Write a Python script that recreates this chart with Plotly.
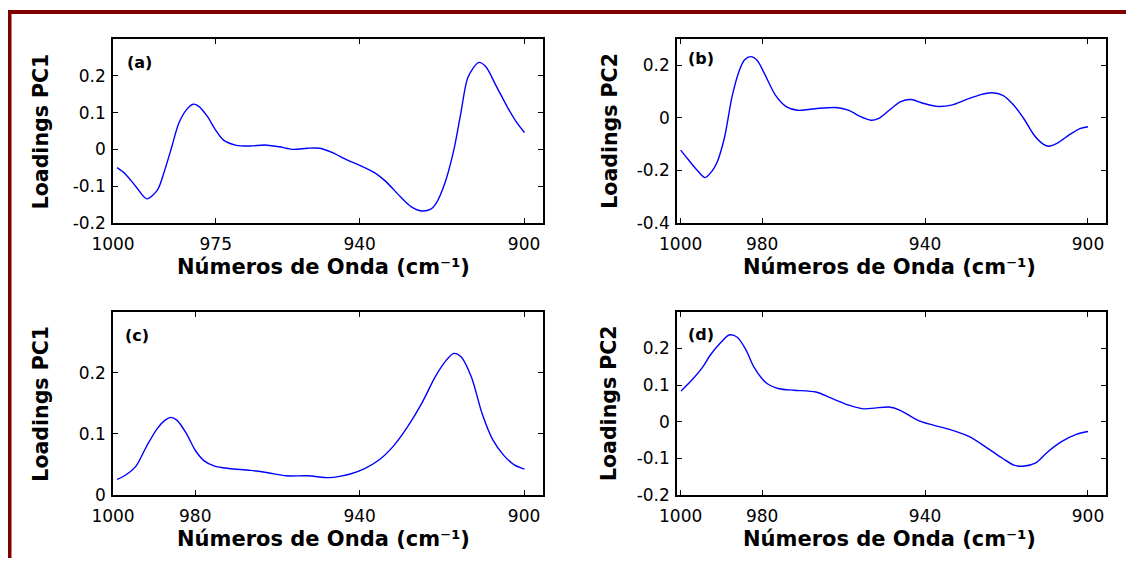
import plotly.graph_objects as go

# ---------------- data ----------------
wn_a = [999.0, 997.0, 994.4, 991.8, 989.2, 987.4, 985.7, 984.0, 982.2, 980.5, 979.2, 977.0, 975.3, 973.1,
        970.0, 966.6, 963.1, 959.6, 956.2, 952.7, 949.7, 946.6, 943.1, 939.7, 936.2, 933.6, 930.1, 927.5,
        924.9, 922.7, 921.4, 919.3, 917.1, 915.4, 913.6, 911.0, 909.3, 906.7, 904.1, 901.9, 899.9]
pc1_a = [-0.050, -0.067, -0.102, -0.135, -0.111, -0.056, 0.007, 0.071, 0.107, 0.123, 0.118, 0.089, 0.057,
         0.025, 0.011, 0.009, 0.012, 0.007, 0.000, 0.003, 0.003, -0.009, -0.029, -0.045, -0.065, -0.088,
         -0.129, -0.156, -0.168, -0.163, -0.147, -0.093, -0.002, 0.098, 0.198, 0.237, 0.225, 0.171, 0.116,
         0.075, 0.046]

wn_b = [1000.0, 998.2, 996.0, 994.0, 992.4, 991.0, 989.2, 987.4, 985.6, 984.3, 982.8, 981.2, 979.4, 976.7,
        974.0, 971.3, 968.6, 965.9, 961.4, 958.7, 956.0, 953.3, 951.5, 948.8, 946.1, 943.4, 940.7, 937.1,
        933.5, 929.9, 926.3, 923.6, 920.9, 918.2, 915.5, 913.2, 911.0, 909.6, 907.4, 904.7, 902.0, 900.0]
pc2_b = [-0.123, -0.158, -0.199, -0.228, -0.205, -0.167, -0.072, 0.080, 0.181, 0.222, 0.234, 0.219, 0.168,
         0.086, 0.042, 0.029, 0.032, 0.037, 0.039, 0.029, 0.006, -0.009, -0.003, 0.029, 0.061, 0.070, 0.057,
         0.044, 0.049, 0.070, 0.089, 0.096, 0.086, 0.048, -0.009, -0.066, -0.100, -0.108, -0.095, -0.066,
         -0.041, -0.034]

wn_c = [999.0, 997.0, 994.4, 991.8, 989.2, 987.4, 985.9, 984.4, 982.2, 980.0, 977.9, 975.3, 971.8, 966.6,
        962.3, 957.9, 952.7, 947.5, 944.9, 942.3, 938.8, 935.3, 931.9, 928.4, 924.9, 921.5, 918.9, 917.1,
        915.4, 912.8, 910.2, 907.6, 905.0, 902.4, 899.9]
pc1_c = [0.025, 0.032, 0.047, 0.080, 0.109, 0.122, 0.127, 0.122, 0.101, 0.073, 0.056, 0.047, 0.043, 0.040,
         0.036, 0.031, 0.031, 0.028, 0.030, 0.034, 0.043, 0.057, 0.079, 0.111, 0.150, 0.195, 0.221, 0.232,
         0.227, 0.193, 0.133, 0.090, 0.065, 0.049, 0.042]

wn_d = [999.9, 997.3, 994.6, 992.8, 990.1, 988.1, 986.1, 983.9, 982.0, 978.9, 975.8, 972.2, 966.8, 963.2,
        958.7, 955.1, 952.4, 948.8, 946.1, 942.0, 938.9, 934.4, 929.0, 924.5, 920.9, 918.2, 915.9, 912.8,
        910.1, 906.5, 902.9, 900.0]
pc2_d = [0.084, 0.113, 0.149, 0.181, 0.217, 0.237, 0.231, 0.195, 0.149, 0.105, 0.090, 0.086, 0.081, 0.065,
         0.045, 0.035, 0.037, 0.040, 0.031, 0.005, -0.007, -0.020, -0.042, -0.074, -0.101, -0.119, -0.122,
         -0.113, -0.085, -0.055, -0.035, -0.027]

xticks_a = [1000, 975, 940, 900]
xticks_bcd = [1000, 980, 940, 900]
yticks_a = [-0.2, -0.1, 0, 0.1, 0.2]
yticks_b = [-0.4, -0.2, 0, 0.2]
yticks_c = [0, 0.1, 0.2]
yticks_d = [-0.2, -0.1, 0, 0.1, 0.2]
panel_labels = ["(a)", "(b)", "(c)", "(d)"]
ytitles = ["Loadings PC1", "Loadings PC2", "Loadings PC1", "Loadings PC2"]
xtitle = "Números de Onda (cm⁻¹)"

# ---------------- layout helpers ----------------
# the page body keeps its default 8px margin: the figure is sized so page == window
OX, OY = 8, 8
W, H = 1134 - 2 * OX, 566 - 2 * OY
FONT = "DejaVu Sans, Liberation Sans, Arial, sans-serif"


def fx(p):
    return (p - OX) / W


def fy(p):
    return 1 - (p - OY) / H


def fmt(v):
    if v == 0:
        return "0"
    return "%g" % v


cols = [(113.0, 543.0), (677.0, 1105.5)]
rows = [(39.3, 222.7), (312.0, 494.7)]

panels = [
    dict(x=wn_a, y=pc1_a, xt=xticks_a, yt=yticks_a, yr=[-0.2, 0.3], xr=[1000.0, 895.4], r=0, c=0,
         lab=(125, 63), xtc=323, ytc=41.3),
    dict(x=wn_b, y=pc2_b, xt=xticks_bcd, yt=yticks_b, yr=[-0.4, 0.3], xr=[1000.9, 895.7], r=0, c=1,
         lab=(686, 58), xtc=889, ytc=609.7),
    dict(x=wn_c, y=pc1_c, xt=xticks_bcd, yt=yticks_c, yr=[0, 0.3], xr=[1000.0, 895.4], r=1, c=0,
         lab=(123, 335), xtc=323, ytc=41.3),
    dict(x=wn_d, y=pc2_d, xt=xticks_bcd, yt=yticks_d, yr=[-0.2, 0.3], xr=[1000.9, 895.7], r=1, c=1,
         lab=(686, 334.5), xtc=889, ytc=609.7),
]

fig = go.Figure()
layout = dict(
    template="none",
    width=W, height=H, autosize=False,
    margin=dict(l=0, r=0, t=0, b=0, pad=0, autoexpand=False),
    paper_bgcolor="white", plot_bgcolor="white",
    showlegend=False,
    font=dict(family=FONT, color="black", size=17),
)
annotations = []

for i, p in enumerate(panels):
    n = "" if i == 0 else str(i + 1)
    x0, x1 = cols[p["c"]]
    top, bot = rows[p["r"]]
    fig.add_trace(go.Scatter(x=p["x"], y=p["y"], mode="lines",
                             line=dict(color="#0000FF", width=1.4, shape="spline", smoothing=0.8),
                             xaxis="x" + n, yaxis="y" + n, hoverinfo="skip"))
    common = dict(showline=True, linecolor="black", linewidth=1.6, mirror="ticks",
                  ticks="inside", ticklen=5, tickwidth=1, tickcolor="black", automargin=False,
                  showgrid=False, zeroline=False, tickfont=dict(family=FONT, size=17, color="black"))
    layout["xaxis" + n] = dict(domain=[fx(x0), fx(x1)], range=p["xr"], anchor="y" + n,
                               tickmode="array", tickvals=p["xt"], ticktext=[str(t) for t in p["xt"]],
                               ticklabelstandoff=5, **common)
    layout["yaxis" + n] = dict(domain=[fy(bot), fy(top)], range=p["yr"], anchor="x" + n,
                               tickmode="array", tickvals=p["yt"], ticktext=[fmt(t) for t in p["yt"]],
                               ticklabelstandoff=2, **common)
    # panel label
    annotations.append(dict(text=panel_labels[i], xref="paper", yref="paper",
                            x=fx(p["lab"][0]), y=fy(p["lab"][1]), xanchor="left", yanchor="middle",
                            showarrow=False, font=dict(family=FONT, size=16, color="black", weight="bold")))
    # x title
    annotations.append(dict(text=xtitle, xref="paper", yref="paper",
                            x=fx(p["xtc"]), y=fy(bot + 44), xanchor="center", yanchor="middle",
                            showarrow=False, font=dict(family=FONT, size=21, color="black", weight="bold")))
    # y title
    annotations.append(dict(text=ytitles[i], xref="paper", yref="paper",
                            x=fx(p["ytc"]), y=fy((top + bot) / 2), xanchor="center", yanchor="middle",
                            textangle=-90, showarrow=False,
                            font=dict(family=FONT, size=20.5, color="black", weight="bold")))

layout["annotations"] = annotations
# dark red frame (top and left edges)
layout["shapes"] = [
    dict(type="line", xref="paper", yref="paper", x0=fx(7), x1=1.02, y0=fy(12), y1=fy(12),
         line=dict(color="#800000", width=4)),
    dict(type="line", xref="paper", yref="paper", x0=fx(9.5), x1=fx(9.5), y0=fy(10), y1=-0.02,
         line=dict(color="#800000", width=4)),
]
fig.update_layout(**layout)
fig.write_html("out.html")
